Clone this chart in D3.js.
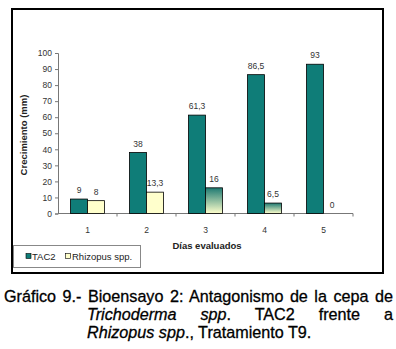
<!DOCTYPE html>
<html><head><meta charset="utf-8">
<script src="https://cdn.jsdelivr.net/npm/d3@7"></script>
<style>
html,body{margin:0;padding:0;background:#fff;}
svg{display:block;}
</style></head>
<body>
<script>
const days = ["1","2","3","4","5"];
const seriesNames = ["TAC2","Rhizopus spp."];
const tac2 = [9, 38, 61.3, 86.5, 93];
const rhizopus = [8, 13.3, 16, 6.5, 0];
const tac2Labels = ["9","38","61,3","86,5","93"];
const rhizopusLabels = ["8","13,3","16","6,5","0"];
const yTicks = [0,10,20,30,40,50,60,70,80,90,100];
const yTitle = "Crecimiento (mm)";
const xTitle = "Días evaluados";

const W = 396, H = 349;
const svg = d3.select("body").append("svg").attr("width", W).attr("height", H);
const defs = svg.append("defs");
const grad = defs.append("linearGradient").attr("id","rg").attr("x1",0).attr("y1",0).attr("x2",0).attr("y2",1);
grad.append("stop").attr("offset","0%").attr("stop-color","#1f7a72");
grad.append("stop").attr("offset","100%").attr("stop-color","#ffffcc");

// frame
svg.append("rect").attr("x",12).attr("y",9).attr("width",371).attr("height",264)
  .attr("fill","#fff").attr("stroke","#000").attr("stroke-width",2);

const x = d3.scaleBand().domain(days).range([58,353]).padding(0);
const xs = d3.scaleBand().domain(seriesNames).range([0, x.bandwidth()]).paddingOuter(0.735).paddingInner(0);
const y = d3.scaleLinear().domain([0,100]).range([213.5,53]);

const font = "Arial, 'Liberation Sans', sans-serif";

// y axis
const yAxis = svg.append("g").attr("transform","translate(58,0)")
  .call(d3.axisLeft(y).tickValues(yTicks).tickSize(3).tickPadding(3));
yAxis.select(".domain").attr("stroke","#777");
yAxis.selectAll(".tick line").attr("stroke","#777");
yAxis.selectAll("text").attr("font-family",font).attr("font-size",8.5).attr("fill","#333");

// x axis
const xAxisG = svg.append("g").attr("transform","translate(0,213.5)");
xAxisG.append("line").attr("x1",58).attr("x2",353).attr("stroke","#777");
xAxisG.selectAll("line.tk").data(days.slice(1).concat(["end"])).enter().append("line")
  .attr("class","tk")
  .attr("x1",(d,i)=> i<4 ? x(days[i+1]) : x(days[4])+x.bandwidth())
  .attr("x2",(d,i)=> i<4 ? x(days[i+1]) : x(days[4])+x.bandwidth())
  .attr("y1",0).attr("y2",3).attr("stroke","#777");
xAxisG.selectAll("text").data(days).enter().append("text")
  .attr("x",d=>x(d)+x.bandwidth()/2).attr("y",19)
  .attr("text-anchor","middle").attr("font-family",font).attr("font-size",8.5).attr("fill","#333")
  .text(d=>d);

// bars
const g = svg.append("g");
days.forEach((d,i)=>{
  const gx = x(d);
  g.append("rect").attr("x",gx+xs("TAC2")).attr("y",y(tac2[i]))
    .attr("width",xs.bandwidth()).attr("height",y(0)-y(tac2[i]))
    .attr("fill","#0f7d78").attr("stroke","#000").attr("stroke-width",0.8);
  g.append("text").attr("x",gx+xs("TAC2")+xs.bandwidth()/2).attr("y",y(tac2[i])-6)
    .attr("text-anchor","middle").attr("font-family",font).attr("font-size",8.5).attr("fill","#333")
    .text(tac2Labels[i]);
  if (rhizopus[i] > 0) {
    g.append("rect").attr("x",gx+xs("Rhizopus spp.")).attr("y",y(rhizopus[i]))
      .attr("width",xs.bandwidth()).attr("height",y(0)-y(rhizopus[i]))
      .attr("fill", (i===2||i===3) ? "url(#rg)" : "#ffffcc")
      .attr("stroke","#000").attr("stroke-width",0.8);
  }
  g.append("text").attr("x",gx+xs("Rhizopus spp.")+xs.bandwidth()/2).attr("y",y(rhizopus[i])-6)
    .attr("text-anchor","middle").attr("font-family",font).attr("font-size",8.5).attr("fill","#333")
    .text(rhizopusLabels[i]);
});

// axis titles
svg.append("text").attr("transform","translate(27,135) rotate(-90)")
  .attr("text-anchor","middle").attr("font-family",font).attr("font-size",9.5).attr("font-weight","bold").attr("fill","#222")
  .text(yTitle);
svg.append("text").attr("x",207).attr("y",249)
  .attr("text-anchor","middle").attr("font-family",font).attr("font-size",9.5).attr("font-weight","bold").attr("fill","#222")
  .text(xTitle);

// legend
const lg = svg.append("g");
lg.append("rect").attr("x",13.5).attr("y",245.5).attr("width",127).attr("height",22)
  .attr("fill","#fff").attr("stroke","#888").attr("stroke-width",1);
lg.append("rect").attr("x",26).attr("y",253.5).attr("width",5).attr("height",5).attr("fill","#0f7d78").attr("stroke","#000").attr("stroke-width",0.6);
lg.append("text").attr("x",32).attr("y",259.5).attr("font-family",font).attr("font-size",9.5).attr("fill","#222").text(seriesNames[0]);
lg.append("rect").attr("x",65.5).attr("y",253.5).attr("width",5).attr("height",5).attr("fill","#ffffcc").attr("stroke","#000").attr("stroke-width",0.6);
lg.append("text").attr("x",72).attr("y",259.5).attr("font-family",font).attr("font-size",9.5).attr("fill","#222").text(seriesNames[1]);

// caption, justified lines
const sx = 0.98;
const cap = svg.append("g").attr("transform",`scale(${sx},1)`)
  .attr("font-family","'Liberation Sans', Arial, sans-serif").attr("font-size",16.5).attr("fill","#000")
  .attr("stroke","#000").attr("stroke-width",0.3);

function justify(t, x0, x1, nSpaces) {
  const nat = t.node().getComputedTextLength();
  const target = (x1 - x0) / sx;
  t.attr("word-spacing", (target - nat) / nSpaces);
}
const t1 = cap.append("text").attr("x",4/sx).attr("y",302)
  .text("Gráfico 9.- Bioensayo 2: Antagonismo de la cepa de");
justify(t1, 4, 393, 8);

const t2 = cap.append("text").attr("x",87/sx).attr("y",320);
t2.append("tspan").attr("font-style","italic").text("Trichoderma spp");
t2.append("tspan").text(". TAC2 frente a");
justify(t2, 87, 393, 4);

const t3 = cap.append("text").attr("x",87/sx).attr("y",338);
t3.append("tspan").attr("font-style","italic").text("Rhizopus spp");
t3.append("tspan").text("., Tratamiento T9.");
</script>
</body></html>
